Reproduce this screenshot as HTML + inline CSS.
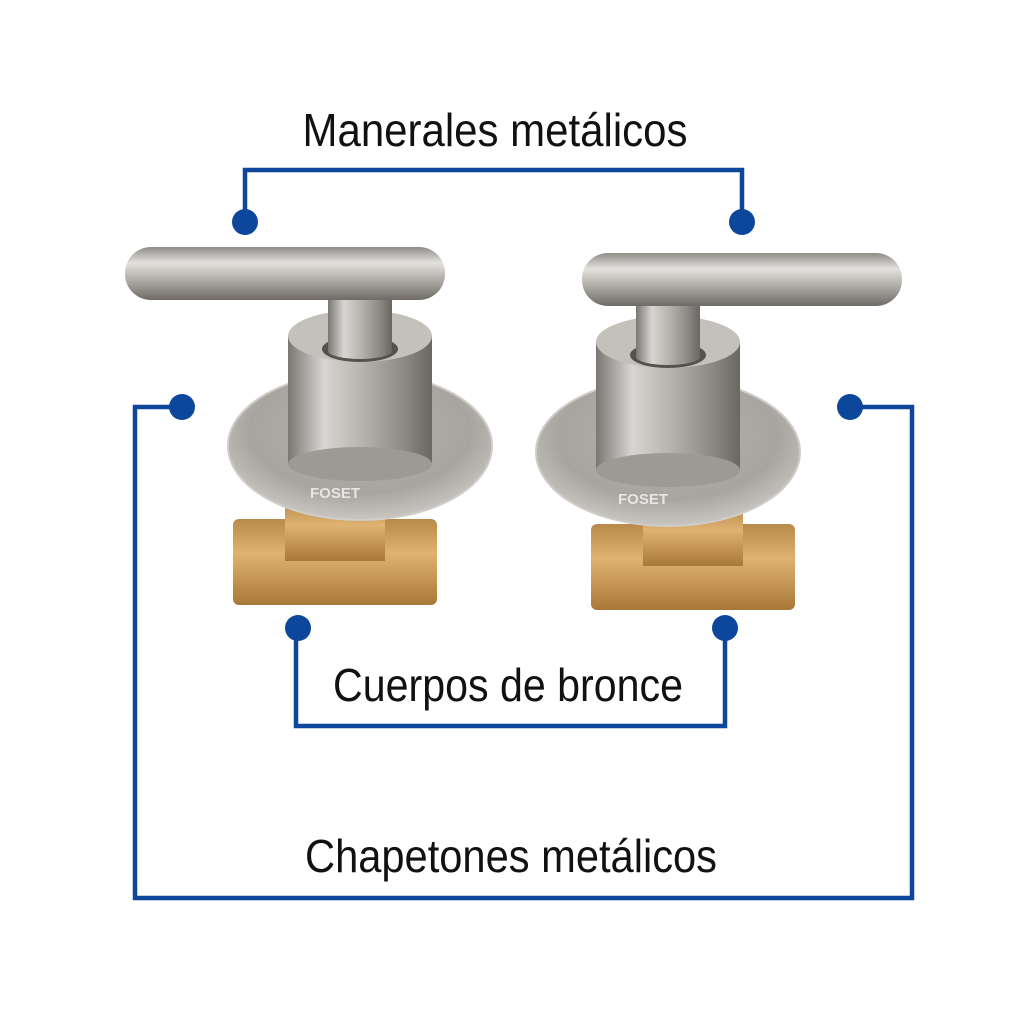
<!DOCTYPE html>
<html><head><meta charset="utf-8"><style>
html,body{margin:0;padding:0;background:#fff;}
svg{display:block}
.t{font-family:"Liberation Sans",sans-serif;font-size:46px;fill:#111;}
</style></head><body>
<svg width="1024" height="1024" viewBox="0 0 1024 1024" xmlns="http://www.w3.org/2000/svg">
<defs>
<linearGradient id="hbar" x1="0" y1="0" x2="0" y2="1">
<stop offset="0" stop-color="#8f8c88"/><stop offset="0.3" stop-color="#e4e2de"/><stop offset="0.6" stop-color="#b3b0ab"/><stop offset="1" stop-color="#6e6b67"/></linearGradient>
<linearGradient id="vcyl" x1="0" y1="0" x2="1" y2="0">
<stop offset="0" stop-color="#7a7773"/><stop offset="0.25" stop-color="#d8d6d2"/><stop offset="0.5" stop-color="#b8b5b0"/><stop offset="0.8" stop-color="#8d8a86"/><stop offset="1" stop-color="#6a6763"/></linearGradient>
<radialGradient id="flange" cx="0.5" cy="0.4" r="0.6">
<stop offset="0" stop-color="#b5b2ad"/><stop offset="0.7" stop-color="#a8a5a0"/><stop offset="1" stop-color="#c9c6c1"/></radialGradient>
<linearGradient id="brass" x1="0" y1="0" x2="0" y2="1">
<stop offset="0" stop-color="#b88a4a"/><stop offset="0.4" stop-color="#e0b272"/><stop offset="1" stop-color="#a87838"/></linearGradient>
<g id="brassb">
<rect x="0" y="0" width="204" height="86" rx="6" fill="url(#brass)"/>
<rect x="52" y="-18" width="100" height="60" fill="url(#brass)"/>
</g>
<g id="body">
<ellipse cx="0" cy="0" rx="132" ry="74" fill="url(#flange)" stroke="#cfcdc9" stroke-width="2"/>
<rect x="-72" y="-110" width="144" height="128" fill="url(#vcyl)"/>
<ellipse cx="0" cy="18" rx="72" ry="17" fill="#9d9a95"/>
<ellipse cx="0" cy="-110" rx="72" ry="26" fill="#c4c1bc"/>
<ellipse cx="0" cy="-97" rx="38" ry="13" fill="#55524e"/>
<rect x="-32" y="-150" width="64" height="55" fill="url(#vcyl)"/>
<ellipse cx="0" cy="-95" rx="32" ry="8" fill="url(#vcyl)"/>
<text x="-50" y="52" font-family="Liberation Sans,sans-serif" font-weight="bold" font-size="15" fill="#e8e6e2">FOSET</text>
</g>
</defs>
<rect width="1024" height="1024" fill="#fff"/>
<use href="#brassb" x="233" y="519"/>
<use href="#body" x="360" y="446"/>
<rect x="125" y="247" width="320" height="53" rx="26" fill="url(#hbar)"/>
<use href="#brassb" x="591" y="524"/>
<use href="#body" x="668" y="452"/>
<rect x="582" y="253" width="320" height="53" rx="26" fill="url(#hbar)"/>
<g stroke="#0c479b" stroke-width="4.5" fill="none">
<polyline points="245,222 245,170 742,170 742,222"/>
<polyline points="182,407 135,407 135,898 912,898 912,407 850,407"/>
<polyline points="296,628 296,726 725,726 725,628"/>
</g>
<g fill="#0c479b">
<circle cx="245" cy="222" r="13"/><circle cx="742" cy="222" r="13"/>
<circle cx="182" cy="407" r="13"/><circle cx="850" cy="407" r="13"/>
<circle cx="298" cy="628" r="13"/><circle cx="725" cy="628" r="13"/>
</g>
<text class="t" x="495" y="146" text-anchor="middle" textLength="385" lengthAdjust="spacingAndGlyphs">Manerales metálicos</text>
<text class="t" x="508" y="701" text-anchor="middle" textLength="350" lengthAdjust="spacingAndGlyphs">Cuerpos de bronce</text>
<text class="t" x="511" y="872" text-anchor="middle" textLength="412" lengthAdjust="spacingAndGlyphs">Chapetones metálicos</text>
</svg>
</body></html>
